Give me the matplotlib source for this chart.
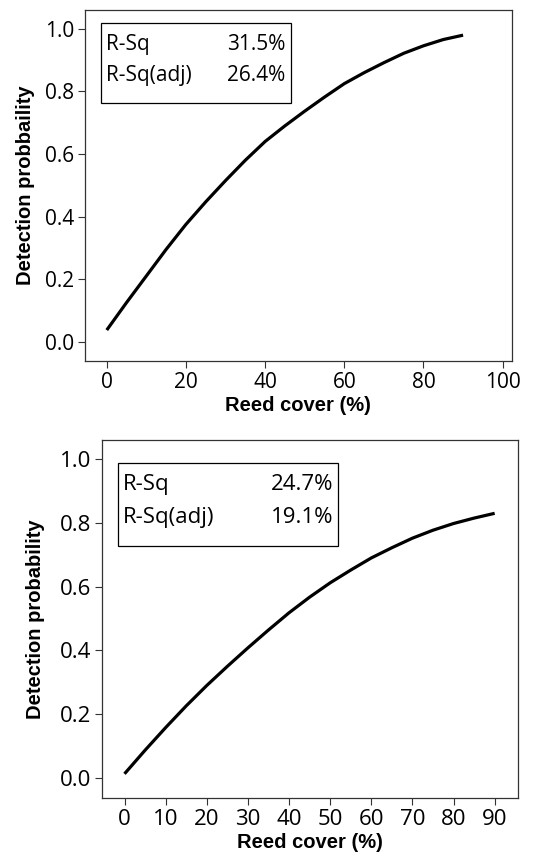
import numpy as np
import matplotlib
matplotlib.use("Agg")
import matplotlib.pyplot as plt
from matplotlib.patches import Rectangle

# panel 1: curve
reed1 = [0, 5, 10, 15, 20, 25, 30, 35, 40, 45, 50, 55, 60, 65, 70, 75, 80, 85, 90]
prob1 = [0.037, 0.125, 0.21, 0.295, 0.375, 0.447, 0.515, 0.58, 0.64, 0.69, 0.737,
         0.782, 0.825, 0.86, 0.892, 0.922, 0.946, 0.966, 0.98]
stats1 = [("R-Sq", "31.5%"), ("R-Sq(adj)", "26.4%")]
xticks1 = [0, 20, 40, 60, 80, 100]

# panel 2
reed2 = [0, 5, 10, 15, 20, 25, 30, 35, 40, 45, 50, 55, 60, 65, 70, 75, 80, 85, 90]
prob2 = [0.013, 0.087, 0.158, 0.226, 0.29, 0.35, 0.408, 0.464, 0.518, 0.567, 0.612,
         0.652, 0.69, 0.722, 0.752, 0.777, 0.798, 0.815, 0.83]
stats2 = [("R-Sq", "24.7%"), ("R-Sq(adj)", "19.1%")]
xticks2 = [0, 10, 20, 30, 40, 50, 60, 70, 80, 90]

yticks = [0.0, 0.2, 0.4, 0.6, 0.8, 1.0]

tick_font = "Open Sans"
lab_font = "Liberation Sans"

fig = plt.figure(figsize=(5.43, 8.6), dpi=100)


def panel(rect, x, y, xt, xlim, stats, box, ylab, tsize, ypad):
    ax = fig.add_axes(rect)
    ax.plot(x, y, color="black", lw=2.3, solid_capstyle="butt", solid_joinstyle="round")
    ax.set_xlim(*xlim)
    ax.set_ylim(-0.062, 1.06)
    ax.set_xticks(xt)
    ax.set_yticks(yticks)
    ax.set_xticklabels([str(v) for v in xt], family=tick_font, fontsize=tsize)
    ax.set_yticklabels(["%.1f" % v for v in yticks], family=tick_font, fontsize=tsize)
    ax.tick_params(direction="out", length=5, width=0.8, color="#333333", pad=3)
    for s in ax.spines.values():
        s.set_color("#333333")
        s.set_linewidth(0.9)
    ax.set_xlabel("Reed cover (%)", family=lab_font, weight="bold", fontsize=14.5, labelpad=2)
    ax.set_ylabel(ylab, family=lab_font, weight="bold", fontsize=14.5, labelpad=ypad)
    bx0, by0, bx1, by1 = box
    ax.add_patch(Rectangle((bx0, by0), bx1 - bx0, by1 - by0, transform=ax.transAxes,
                           fill=False, edgecolor="black", lw=0.9))
    rows = np.linspace(by1 - 0.06, by0 + 0.08, len(stats))
    for (name, val), ry in zip(stats, rows):
        ax.text(bx0 + 0.012, ry, name, transform=ax.transAxes, family=tick_font,
                fontsize=tsize, va="center", ha="left")
        ax.text(bx1 - 0.012, ry, val, transform=ax.transAxes, family=tick_font,
                fontsize=tsize, va="center", ha="right")
    return ax


panel([0.1565, 0.5802, 0.786, 0.408], reed1, prob1, xticks1, (-5.5, 102.3), stats1,
      (0.037, 0.735, 0.482, 0.963), "Detection probbaility", 15, 7)
panel([0.1884, 0.0724, 0.765, 0.416], reed2, prob2, xticks2, (-5.4, 95.6), stats2,
      (0.037, 0.704, 0.568, 0.935), "Detection probability", 16, 11)

fig.savefig("out.png", dpi=100)
